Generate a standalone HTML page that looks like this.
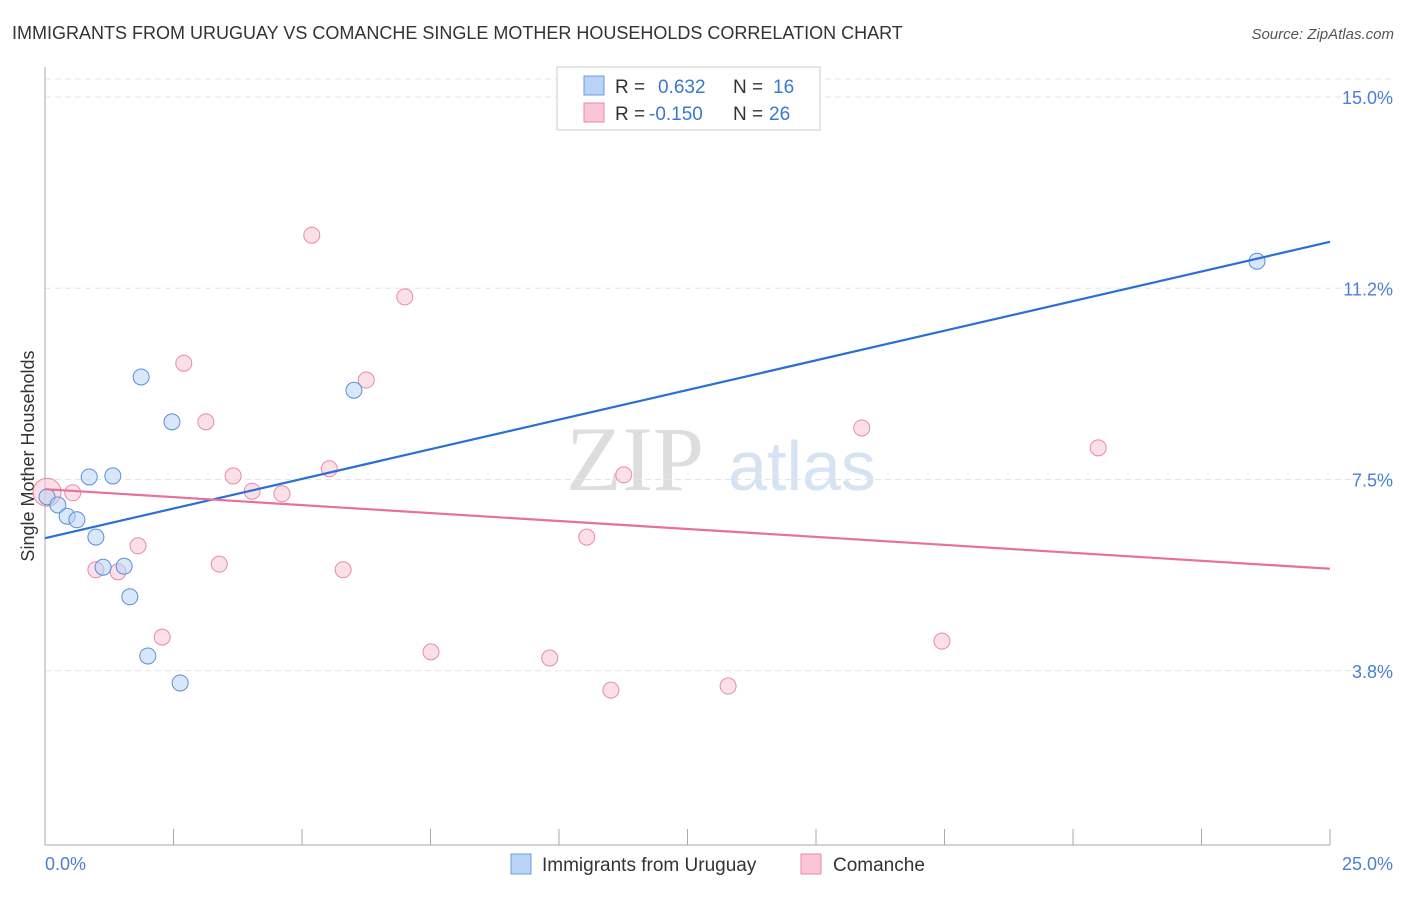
<!DOCTYPE html>
<html><head><meta charset="utf-8"><style>
body{margin:0;background:#fff;font-family:"Liberation Sans",sans-serif;}
</style></head><body>
<svg width="1406" height="892" xmlns="http://www.w3.org/2000/svg" font-family="Liberation Sans, sans-serif">
<text x="12" y="39" font-size="18" fill="#333">IMMIGRANTS FROM URUGUAY VS COMANCHE SINGLE MOTHER HOUSEHOLDS CORRELATION CHART</text>
<text x="1394" y="39" font-size="15" fill="#555" font-style="italic" text-anchor="end">Source: ZipAtlas.com</text>
<g>
<text x="635" y="490" font-size="92" fill="#ddd" font-family="Liberation Serif, serif" text-anchor="middle">ZIP</text>
<text x="802" y="490" font-size="70" fill="#d5e3f3" text-anchor="middle">atlas</text>
</g>
<g id="grid"></g>
<line x1="45" y1="67" x2="45" y2="845" stroke="#aaa"/>
<line x1="45" y1="845" x2="1330" y2="845" stroke="#aaa"/>
<g id="ticks"></g>
<text transform="translate(34,456) rotate(-90)" font-size="18" fill="#333" text-anchor="middle">Single Mother Households</text>
<text x="45" y="870" font-size="18" fill="#4a7fd4">0.0%</text>
<text x="1393" y="870" font-size="18" fill="#4a7fd4" text-anchor="end">25.0%</text>
<g id="marks"></g>
<g>
<rect x="557" y="67" width="263" height="63" fill="#fff" stroke="#ccc"/>
<rect x="584" y="76" width="20" height="19" fill="#b8d3f5" stroke="#6a9be0"/>
<rect x="584" y="103" width="20" height="19" fill="#f9c6d6" stroke="#e88aa8"/>
<text x="615" y="93" font-size="19" fill="#333">R =</text>
<text x="658" y="93" font-size="19" fill="#3a78d4">0.632</text>
<text x="733" y="93" font-size="19" fill="#333">N =</text>
<text x="773" y="93" font-size="19" fill="#3a78d4">16</text>
<text x="615" y="120" font-size="19" fill="#333">R =</text>
<text x="649" y="120" font-size="19" fill="#3a78d4">-0.150</text>
<text x="733" y="120" font-size="19" fill="#333">N =</text>
<text x="769" y="120" font-size="19" fill="#3a78d4">26</text>
</g>
<g>
<rect x="511" y="854" width="20" height="20" fill="#b8d3f5" stroke="#6a9be0"/>
<text x="542" y="871" font-size="19" fill="#333">Immigrants from Uruguay</text>
<rect x="801" y="854" width="20" height="20" fill="#f9c6d6" stroke="#e88aa8"/>
<text x="833" y="871" font-size="19" fill="#333">Comanche</text>
</g>
</svg>
<script>
const yTicks=[15.0,11.25,7.5,3.75];
const yTickLabels=["15.0%","11.2%","7.5%","3.8%"];
const xTickVals=[0,2.5,5,7.5,10,12.5,15,17.5,20,22.5,25];
const blueX=[0.04,0.25,0.43,0.62,0.86,1.32,0.99,1.13,1.54,1.65,1.87,2.47,2.00,2.63,6.01,23.58];
const blueY=[7.16,7.00,6.78,6.71,7.55,7.57,6.37,5.78,5.80,5.20,9.51,8.63,4.04,3.51,9.25,11.78];
const pinkX=[0.04,0.54,0.99,1.42,1.81,2.28,2.70,3.13,3.39,3.66,4.03,4.61,5.19,5.53,5.80,6.25,7.00,7.51,9.82,10.54,11.01,11.26,13.29,15.89,17.45,20.49];
const pinkY=[7.25,7.24,5.73,5.69,6.20,4.41,9.78,8.63,5.84,7.57,7.27,7.22,12.29,7.71,5.73,9.45,11.08,4.12,4.00,6.37,3.37,7.59,3.45,8.51,4.33,8.12];
const blueLine=[6.35,12.16];
const pinkLine=[7.31,5.75];
const NS="http://www.w3.org/2000/svg";
const sx=v=>45+v*51.4;
const sy=v=>97+(15-v)*51.0;
function mk(parent,tag,attrs){const e=document.createElementNS(NS,tag);for(const k in attrs)e.setAttribute(k,attrs[k]);document.getElementById(parent).appendChild(e);return e;}
let g=mk('grid','line',{x1:45,x2:1393,y1:79,y2:79,stroke:'#e4e4e4','stroke-dasharray':'6,4'});


yTicks.forEach((v,i)=>{
 const l=mk('grid','line',{x1:45,x2:1393,y1:sy(v),y2:sy(v),stroke:'#e4e4e4','stroke-dasharray':'6,4'});
 
 
 const t=mk('grid','text',{x:1393,y:sy(v)+7,'font-size':18,fill:'#4a7fd4','text-anchor':'end'});
 t.textContent=yTickLabels[i];
 
 
});
xTickVals.forEach(v=>{
 const l=mk('ticks','line',{x1:sx(v),x2:sx(v),y1:829,y2:845,stroke:'#aaa'});
 
 
});
function pts(xs,ys,fill,stroke,name){
 xs.forEach((x,i)=>{
  const r=(i===0&&name==='pink-point')?14:8;
  const c=mk('marks','circle',{cx:sx(x),cy:sy(ys[i]),r:r,fill:fill,'fill-opacity':0.55,stroke:stroke,'stroke-width':1});
  
  
 });
}
pts(pinkX,pinkY,'#f9c6d6','#e88aa8','pink-point');
pts(blueX,blueY,'#b8d3f5','#5a8fd8','blue-point');
let bl=mk('marks','line',{x1:sx(0),y1:sy(blueLine[0]),x2:sx(25),y2:sy(blueLine[1]),stroke:'#2a6fd6','stroke-width':2.2});


let pl=mk('marks','line',{x1:sx(0),y1:sy(pinkLine[0]),x2:sx(25),y2:sy(pinkLine[1]),stroke:'#e8709a','stroke-width':2.2});


</script>
</body></html>
